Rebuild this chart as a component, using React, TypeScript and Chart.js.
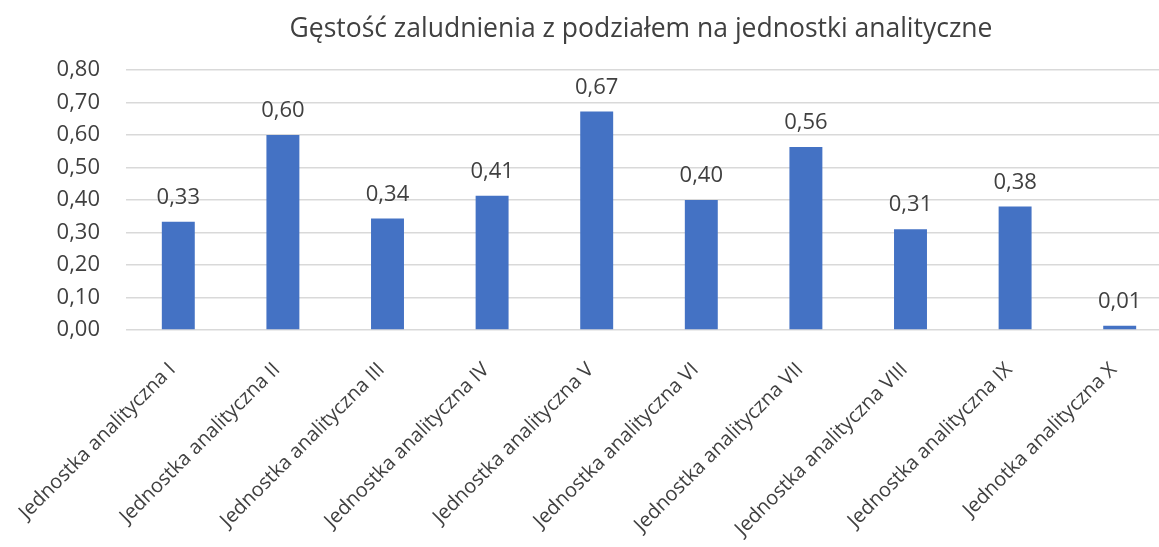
import React, { useEffect, useRef } from "react";
import { Chart, registerables } from "chart.js";

Chart.register(...registerables);

const categories: string[] = [
  "Jednostka analityczna I",
  "Jednostka analityczna II",
  "Jednostka analityczna III",
  "Jednostka analityczna IV",
  "Jednostka analityczna V",
  "Jednostka analityczna VI",
  "Jednostka analityczna VII",
  "Jednostka analityczna VIII",
  "Jednostka analityczna IX",
  "Jednotka analityczna X",
];

const density: number[] = [0.333, 0.6, 0.343, 0.413, 0.672, 0.4, 0.563, 0.31, 0.38, 0.013];

const titleText = "Gęstość zaludnienia z podziałem na jednostki analityczne";

const FONT = "'Open Sans', 'Noto Sans', sans-serif";
const TEXT = "#404040";

const fmt = (v: number) => v.toFixed(2).replace(".", ",");

const valueLabels = {
  id: "valueLabels",
  afterDatasetsDraw(chart: any) {
    const ctx = chart.ctx;
    const meta = chart.getDatasetMeta(0);
    ctx.save();
    ctx.font = `22px ${FONT}`;
    ctx.fillStyle = TEXT;
    ctx.textAlign = "center";
    ctx.textBaseline = "alphabetic";
    meta.data.forEach((bar: any, i: number) => {
      const v = chart.data.datasets[0].data[i] as number;
      ctx.fillText(fmt(v), bar.x, bar.y - 18);
    });
    ctx.restore();
  },
};

const titleDraw = {
  id: "titleDraw",
  afterDraw(chart: any) {
    const ctx = chart.ctx;
    ctx.save();
    ctx.font = `26.5px ${FONT}`;
    ctx.fillStyle = TEXT;
    ctx.textAlign = "center";
    ctx.textBaseline = "alphabetic";
    ctx.fillText(titleText, 641, 37);
    ctx.restore();
  },
};

export default function App() {
  const ref = useRef<HTMLCanvasElement | null>(null);

  useEffect(() => {
    document.body.style.margin = "0";
    if (!ref.current) return;
    const chart = new Chart(ref.current, {
      type: "bar",
      data: {
        labels: categories,
        datasets: [
          {
            data: density,
            backgroundColor: "#4472C4",
            barPercentage: 0.315,
            categoryPercentage: 1,
          },
        ],
      },
      options: {
        animation: false,
        responsive: false,
        layout: { padding: { left: 0, right: 8, top: 70, bottom: 0 } },
        plugins: {
          legend: { display: false },
          tooltip: { enabled: false },
          title: { display: false },
        },
        scales: {
          x: {
            grid: { display: false },
            border: { display: false },
            ticks: {
              color: TEXT,
              font: { family: FONT, size: 20 },
              minRotation: 45,
              maxRotation: 45,
              autoSkip: false,
              padding: 20,
              labelOffset: -6,
            },
            afterFit(scale: any) {
              scale.height = 217;
            },
          },
          y: {
            min: 0,
            max: 0.8,
            border: { display: false },
            grid: { color: "#d9d9d9", lineWidth: 1.5, drawTicks: false },
            ticks: {
              stepSize: 0.1,
              color: TEXT,
              font: { family: FONT, size: 22 },
              padding: 26,
              callback: (v: any) => fmt(Number(v)),
            },
            afterFit(scale: any) {
              scale.width = 126;
            },
          },
        },
      },
      plugins: [valueLabels, titleDraw],
    });
    return () => chart.destroy();
  }, []);

  return (
    <div style={{ position: "absolute", left: 0, top: 0, width: 1159, height: 547, overflow: "hidden", background: "#fff" }}>
      <canvas ref={ref} width={1180} height={547} style={{ display: "block" }} />
    </div>
  );
}
